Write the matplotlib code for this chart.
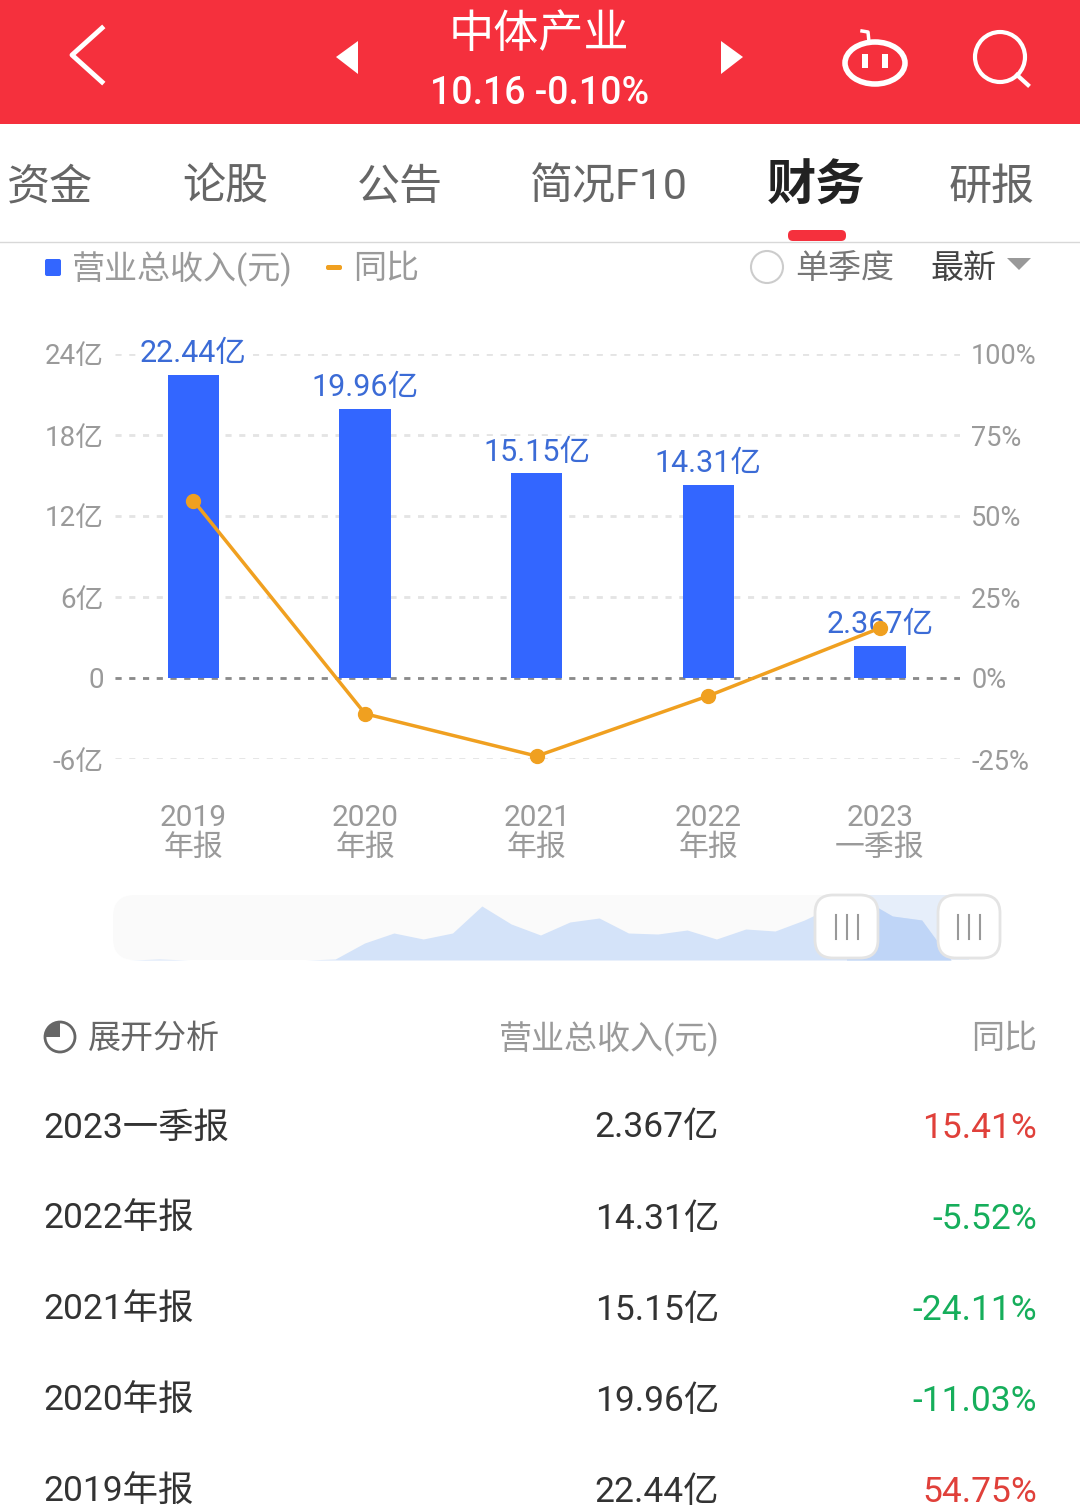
import matplotlib
matplotlib.use("Agg")
import matplotlib.pyplot as plt
from matplotlib.patches import Circle, Ellipse, FancyBboxPatch, Polygon, Rectangle, Wedge

plt.rcParams['font.family'] = ['Roboto', 'Noto Sans CJK SC', 'DejaVu Sans']

# Chart data
periods = ["2019", "2020", "2021", "2022", "2023"]
period_types = ["年报", "年报", "年报", "年报", "一季报"]
revenue = [22.44, 19.96, 15.15, 14.31, 2.367]
revenue_labels = ["22.44亿", "19.96亿", "15.15亿", "14.31亿", "2.367亿"]
yoy = [54.75, -11.03, -24.11, -5.52, 15.41]
left_ticks = [-6, 0, 6, 12, 18, 24]
left_tick_labels = ["-6亿", "0", "6亿", "12亿", "18亿", "24亿"]
right_ticks = [-25, 0, 25, 50, 75, 100]
right_tick_labels = ["-25%", "0%", "25%", "50%", "75%", "100%"]

# Table under the chart
table_periods = ["2023一季报", "2022年报", "2021年报", "2020年报", "2019年报"]
table_revenue = ["2.367亿", "14.31亿", "15.15亿", "19.96亿", "22.44亿"]
table_yoy = ["15.41%", "-5.52%", "-24.11%", "-11.03%", "54.75%"]

# Overview strip, height of the area per quarter
overview = [0, 1, 0, 0, 0, 0, 0, 1, 17, 27, 21, 27, 54, 36, 25, 38, 42,
            27, 26, 30, 21, 31, 29, 40, 54, 61, 44, 40, 0]

tabs = ["资金", "论股", "公告", "简况F10", "财务", "研报"]
tab_x = [50, 225, 400, 609, 816, 992]

RED = "#F5303D"
BLUE = "#3366FF"
ORANGE = "#F0A020"
GREY = "#9A9A9A"
DARK = "#333333"
W, H = 1080, 1510

fig = plt.figure(figsize=(W / 100, H / 100), dpi=100, facecolor="white")


def pixel_axes(zorder):
    a = fig.add_axes([0, 0, 1, 1], zorder=zorder)
    a.set_xlim(0, W)
    a.set_ylim(H, 0)
    a.axis("off")
    return a


def box_axes(x0, y0, x1, y1, zorder):
    return fig.add_axes([x0 / W, 1 - y1 / H, (x1 - x0) / W, (y1 - y0) / H], zorder=zorder)


def rounded(a, x0, y0, x1, y1, r, **kw):
    a.add_patch(FancyBboxPatch((x0 + r, y0 + r), x1 - x0 - 2 * r, y1 - y0 - 2 * r,
                               boxstyle=f"round,pad={r},rounding_size={r}", **kw))


back = pixel_axes(0)
ui = pixel_axes(5)

# Header
back.add_patch(Rectangle((0, 0), W, 124, color=RED, lw=0))
ui.text(539, 35, "中体产业", color="white", fontsize=32.5, ha="center", va="center")
ui.text(540, 94, "10.16 -0.10%", color="white", fontsize=27, fontweight="medium",
        ha="center", va="center")
ui.plot([102, 72, 102], [28, 55, 82], color="white", lw=3.5)
ui.add_patch(Polygon([(358, 41), (358, 74), (336, 57)], color="white", lw=0))
ui.add_patch(Polygon([(721, 41), (721, 74), (743, 57)], color="white", lw=0))
ui.add_patch(Ellipse((875, 63), 60, 42, fc="none", ec="white", lw=4))
ui.plot([862, 868, 869], [31, 32, 42], color="white", lw=2.5)
ui.add_patch(Rectangle((862, 54), 6, 14, color="white", lw=0))
ui.add_patch(Rectangle((882, 54), 6, 14, color="white", lw=0))
ui.add_patch(Circle((1000, 57), 25, fc="none", ec="white", lw=3))
ui.plot([1017, 1028], [75, 85], color="white", lw=3)

# Tabs
for name, x in zip(tabs, tab_x):
    active = name == "财务"
    ui.text(x, 188, name, ha="center", va="center",
            fontsize=35.5 if active else 31,
            color="#222222" if active else "#666666",
            fontweight="bold" if active else "normal")
rounded(ui, 788, 230, 846, 241, 5, fc=RED, ec="none")
ui.plot([0, W], [241.5, 241.5], color="#D8D8D8", lw=1)

# Legend row
rounded(ui, 45, 259, 61, 276, 2, fc=BLUE, ec="none")
ui.text(72, 269, "营业总收入(元)", color=GREY, fontsize=23.8, va="center")
rounded(ui, 326, 265, 342, 270, 2, fc=ORANGE, ec="none")
ui.text(353, 269, "同比", color=GREY, fontsize=23.8, va="center")
ui.add_patch(Circle((767, 267), 16, fc="white", ec="#CCCCCC", lw=1.5))
ui.text(795, 269, "单季度", color="#777777", fontsize=23.8, va="center")
ui.text(930, 269, "最新", color="#444444", fontsize=23.8, va="center")
ui.add_patch(Polygon([(1007, 258), (1031, 258), (1019, 270)], color="#999999", lw=0))

# Bars and line
ax = box_axes(115, 354, 960, 759, 2)
ax.set_xlim(-0.457, 4.466)
ax.set_ylim(-6, 24)
ax.patch.set_alpha(0)
xs = list(range(len(periods)))
ax.yaxis.grid(True, color="#E4E4E4", lw=2, ls=(0, (2.2, 2.75)))
ax.set_axisbelow(True)
ax.axhline(0, color="#8A8A8A", lw=2, ls=(0, (2.2, 2.75)), zorder=1.5)
ax.bar(xs, revenue, width=0.3, color=BLUE, zorder=2)
for x, v, lab in zip(xs, revenue, revenue_labels):
    ax.annotate(lab, (x, v), xytext=(0, 5), textcoords="offset points", ha="center",
                va="bottom", fontsize=22, color="#3B6BD6", zorder=4,
                annotation_clip=False,
                bbox=dict(fc="white", ec="none", pad=1))
for x, p, t in zip(xs, periods, period_types):
    ax.annotate(p, (x, 0), xycoords=ax.get_xaxis_transform(), xytext=(0, -42.5),
                textcoords="offset points", ha="center", va="center",
                fontsize=21.5, color=GREY)
    ax.annotate(t, (x, 0), xycoords=ax.get_xaxis_transform(), xytext=(0, -64),
                textcoords="offset points", ha="center", va="center",
                fontsize=21.5, color=GREY)
ax.set_xticks([])
ax.set_yticks(left_ticks, left_tick_labels)
ax.tick_params(axis="y", length=0, pad=8, labelsize=20, labelcolor=GREY)
for s in ax.spines.values():
    s.set_visible(False)

ax2 = ax.twinx()
ax2.set_ylim(-25, 100)
ax2.plot(xs, yoy, color=ORANGE, lw=2.5, marker="o", ms=10, zorder=5, clip_on=False)
ax2.set_yticks(right_ticks, right_tick_labels)
ax2.tick_params(axis="y", length=0, pad=8, labelsize=19.5, labelcolor=GREY)
for s in ax2.spines.values():
    s.set_visible(False)

# Overview strip
rounded(back, 113, 895, 1000, 960, 22, fc="#FAFAFA", ec="none")
back.add_patch(Rectangle((847, 895), 122, 65, color="#E6EEFA", lw=0))
ov = box_axes(130, 895, 951, 960, 1)
ov.set_xlim(0, len(overview) - 1)
ov.set_ylim(0, 65)
ov.axis("off")
ov_x = list(range(len(overview)))
ov.fill_between(ov_x, overview, 0, color="#D4E3F9", lw=0)
sel = ov.fill_between(ov_x, overview, 0, color="#BFD5F7", lw=0)
sel.set_clip_path(Rectangle((847, 0), 122, H, transform=ui.transData))
for x0, x1 in [(815, 878), (938, 1000)]:
    rounded(ui, x0, 895, x1, 958, 18, fc="white", ec="#E4E4E4", lw=2)
    xc = (x0 + x1) / 2
    for dx in (-11, 0, 11):
        ui.plot([xc + dx, xc + dx], [915, 939], color="#999999", lw=1.5)

# Table header
ui.add_patch(Circle((60, 1037), 15, fc="white", ec="#666666", lw=2))
ui.add_patch(Wedge((60, 1037), 15, 180, 270, fc="#666666", ec="none"))
ui.text(88, 1039, "展开分析", color="#666666", fontsize=23.8, va="center")
ui.text(720, 1039, "营业总收入(元)", color=GREY, fontsize=23.8, ha="right", va="center")
ui.text(1037, 1039, "同比", color=GREY, fontsize=23.8, ha="right", va="center")

# Table rows
row_y = [1128, 1219.5, 1310.5, 1401.5, 1492.5]
for y, p, r, g in zip(row_y, table_periods, table_revenue, table_yoy):
    ui.text(43, y, p, color=DARK, fontsize=25.5, va="center")
    ui.text(719, y, r, color=DARK, fontsize=25.5, ha="right", va="center")
    ui.text(1037, y, g, color="#16AE5B" if g.startswith("-") else "#E0403A",
            fontsize=25.5, ha="right", va="center")

fig.savefig("out.png", dpi=100)
